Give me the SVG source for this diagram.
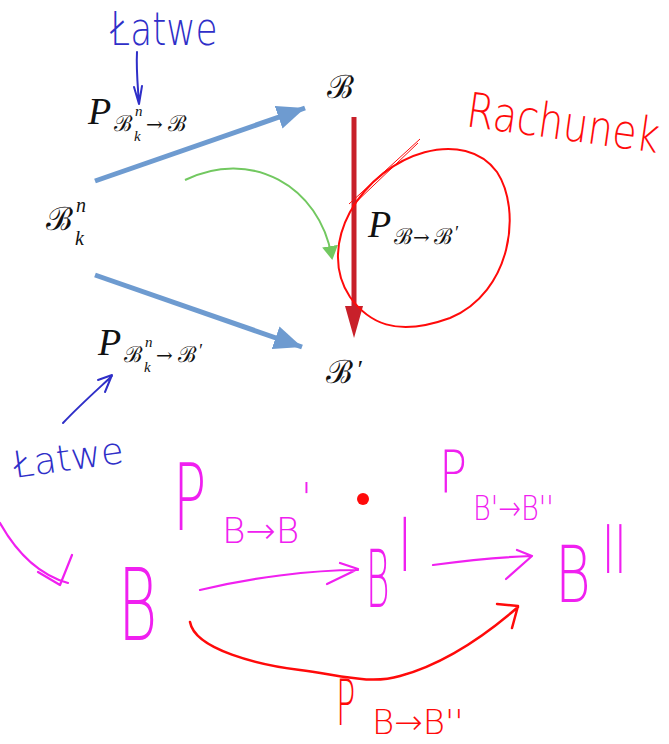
<svg xmlns="http://www.w3.org/2000/svg" width="669" height="744" viewBox="0 0 669 744">
<defs>
<style>
.m{font-family:"Liberation Serif","DejaVu Serif",serif;font-style:italic;fill:#111}
.mu{font-family:"DejaVu Serif","Liberation Serif",serif;fill:#111}
.h{font-family:"DejaVu Sans","Liberation Sans",sans-serif;font-weight:200}
.hb{fill:#2f2fc8}
.hm{fill:#f020f0}
.hr{fill:#ff0a0a}
.blue{stroke:#6e9bd0;stroke-width:5;fill:none}
.pm{stroke:#f020f0;stroke-width:2.2;fill:none;stroke-linecap:round;stroke-linejoin:round}
.pr{stroke:#ff0a0a;stroke-width:2.5;fill:none;stroke-linecap:round;stroke-linejoin:round}
.pb{stroke:#2f2fc8;stroke-width:2;fill:none;stroke-linecap:round;stroke-linejoin:round}
</style>
<marker id="bh" markerUnits="userSpaceOnUse" markerWidth="30" markerHeight="24" refX="28" refY="12" orient="auto"><path d="M0,0 L28,12 L0,24 Z" fill="#6e9bd0"/></marker>
<marker id="gh" markerUnits="userSpaceOnUse" markerWidth="14" markerHeight="16" refX="12" refY="8" orient="auto"><path d="M0,0 L14,8 L0,16 Z" fill="#72c860"/></marker>
</defs>
<g id="top-nodes">
<g id="node-Bkn"><text class="mu" x="46" y="230" font-size="32">ℬ</text><text class="m" x="76" y="212" font-size="20">n</text><text class="m" x="75" y="245" font-size="20">k</text></g>
<g id="node-B"><text class="mu" x="327" y="98" font-size="32">ℬ</text></g>
<g id="node-Bp"><text class="mu" x="326" y="383" font-size="32">ℬ</text><text class="m" x="356" y="378" font-size="26">′</text></g>
<g id="label-P1"><text class="m" x="88" y="124" font-size="38">P</text><text class="mu" x="114" y="131" font-size="22">ℬ</text><text class="m" x="135" y="116" font-size="15">n</text><text class="m" x="134" y="141" font-size="15">k</text><text class="mu" x="146" y="131" font-size="20">→</text><text class="mu" x="168" y="131" font-size="22">ℬ</text></g>
<g id="label-P2"><text class="m" x="98" y="355" font-size="38">P</text><text class="mu" x="124" y="362" font-size="22">ℬ</text><text class="m" x="145" y="347" font-size="15">n</text><text class="m" x="144" y="372" font-size="15">k</text><text class="mu" x="156" y="362" font-size="20">→</text><text class="mu" x="178" y="362" font-size="22">ℬ</text><text class="m" x="198" y="357" font-size="18">′</text></g>
<g id="label-P3"><text class="m" x="368" y="237" font-size="38">P</text><text class="mu" x="394" y="244" font-size="22">ℬ</text><text class="mu" x="413" y="244" font-size="20">→</text><text class="mu" x="434" y="244" font-size="22">ℬ</text><text class="m" x="454" y="239" font-size="18">′</text></g>
</g>
<g id="connectors">
<path class="blue" d="M95,181 L305,108" marker-end="url(#bh)"/>
<path class="blue" d="M95,275 L302,347" marker-end="url(#bh)"/>
<path d="M354,117 L354,308" stroke="#c8202a" stroke-width="5" fill="none"/>
<path d="M345,306 L363,306 L354,338 Z" fill="#c8202a"/>
<path d="M185,180 C250,148 320,185 332,258" stroke="#72c860" stroke-width="2" fill="none" marker-end="url(#gh)"/>
<path d="M350,212 C385,150 465,128 497,172 C522,210 512,292 450,318 C395,338 368,322 350,297 C332,270 336,238 350,212 Z" stroke="#ff0a0a" stroke-width="2" fill="none"/>
<path d="M349,204 L420,139 M352,206 L418,143" stroke="#ff0a0a" stroke-width="1" fill="none"/>
<path class="pb" d="M137,52 C136,70 138,88 139,104 M134,87 L139,104 L142,86"/>
<path class="pb" d="M63,423 C80,405 97,390 112,376 M98,380 L112,375 L105,392"/>
<path class="pm" d="M0,523 C18,555 40,575 68,583 M72,555 L60,585 L38,572"/>
<path class="pm" d="M200,590 C250,578 310,570 358,570 M340,563 L358,569 L327,584"/>
<path class="pm" d="M433,565 C470,560 500,557 532,556 M517,550 L532,556 L506,579"/>
<path class="pr" d="M190,622 C195,650 260,665 300,670 C340,675 370,685 400,676 C440,665 480,640 518,607 M497,604 L518,606 L512,628"/>
<circle cx="363" cy="499" r="6" fill="#ff0a0a"/>
</g>
<g id="annotations">
<text class="h hb" x="0" y="0" font-size="46" transform="translate(110,45) scale(0.78,1)">Łatwe</text>
<text class="h hb" x="0" y="0" font-size="37" transform="translate(15,478) rotate(-8)">Łatwe</text>
<text class="h hr" x="0" y="0" font-size="48" transform="translate(465,126) rotate(8) scale(0.82,1)">Rachunek</text>
</g>
<g id="bottom-nodes">
<g id="node-hB"><text class="h hm" x="0" y="0" font-size="100" transform="translate(118,640) scale(0.6,1)">B</text></g>
<g id="node-hBp"><text class="h hm" x="0" y="0" font-size="80" transform="translate(366,607) scale(0.45,1)">B</text><text class="h hm" x="0" y="0" font-size="100" transform="translate(398,663) scale(0.5,2)">'</text></g>
<g id="node-hBpp"><text class="h hm" x="0" y="0" font-size="78" transform="translate(555,602) scale(0.7,1)">B</text><text class="h hm" x="0" y="0" font-size="90" transform="translate(602,656) scale(0.5,2)">''</text></g>
<g id="label-h1"><text class="h hm" x="0" y="0" font-size="92" transform="translate(173,530) scale(0.6,1)">P</text><text class="h hm" x="222" y="543" font-size="36">B→B</text><text class="h hm" x="301" y="512" font-size="40">'</text></g>
<g id="label-h2"><text class="h hm" x="0" y="0" font-size="58" transform="translate(439,492) scale(0.8,1)">P</text><text class="h hm" x="0" y="0" font-size="34" transform="translate(473,520) scale(0.8,1)">B'→B''</text></g>
<g id="label-h3"><text class="h hr" x="0" y="0" font-size="64" transform="translate(336,725) scale(0.5,1)">P</text><text class="h hr" x="372" y="734" font-size="34">B→B''</text></g>
</g>
</svg>
